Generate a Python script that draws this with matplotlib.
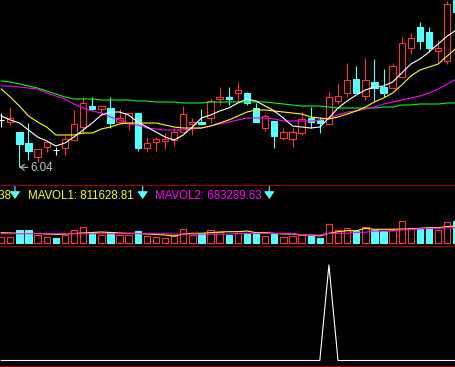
import matplotlib.pyplot as plt
from matplotlib.patches import Rectangle
from matplotlib.lines import Line2D
import numpy as np

# daily candles (price, yuan)
opens = [6.51, 6.49, 6.39, 6.28, 6.14, 6.24, 6.21, 6.23, 6.31, 6.44,
         6.65, 6.62, 6.63, 6.49, 6.48, 6.58, 6.23, 6.29, 6.30, 6.31,
         6.39, 6.47, 6.49, 6.53, 6.72, 6.74, 6.78, 6.78, 6.63, 6.43,
         6.50, 6.33, 6.32, 6.38, 6.53, 6.51, 6.47, 6.70, 6.78, 6.92,
         6.75, 6.89, 6.84, 6.83, 6.94, 7.23, 7.44, 7.39, 7.20, 7.10, 7.71]
closes = [6.51, 6.53, 6.27, 6.20, 6.22, 6.29, 6.21, 6.32, 6.47, 6.68,
          6.62, 6.65, 6.48, 6.53, 6.58, 6.23, 6.28, 6.32, 6.32, 6.39,
          6.57, 6.49, 6.47, 6.70, 6.74, 6.72, 6.81, 6.68, 6.49, 6.55,
          6.35, 6.39, 6.39, 6.52, 6.49, 6.48, 6.74, 6.75, 6.91, 6.78,
          6.91, 6.83, 6.78, 7.05, 7.28, 7.33, 7.30, 7.23, 7.23, 7.67, 7.59]
highs = [6.58, 6.64, 6.39, 6.48, 6.22, 6.31, 6.24, 6.35, 6.61, 6.74,
         6.74, 6.65, 6.74, 6.62, 6.58, 6.58, 6.34, 6.34, 6.38, 6.43,
         6.65, 6.53, 6.62, 6.73, 6.84, 6.84, 6.89, 6.79, 6.68, 6.57,
         6.50, 6.43, 6.43, 6.59, 6.64, 6.54, 6.79, 6.87, 7.08, 7.05,
         7.13, 7.12, 7.02, 7.08, 7.34, 7.38, 7.49, 7.44, 7.31, 7.70, 7.71]
lows = [6.44, 6.46, 6.04, 6.11, 6.09, 6.19, 6.16, 6.16, 6.31, 6.38,
        6.61, 6.56, 6.43, 6.48, 6.41, 6.20, 6.20, 6.20, 6.22, 6.25,
        6.39, 6.36, 6.46, 6.48, 6.66, 6.66, 6.69, 6.66, 6.49, 6.40,
        6.23, 6.31, 6.24, 6.36, 6.43, 6.38, 6.47, 6.67, 6.74, 6.78,
        6.71, 6.70, 6.74, 6.83, 6.94, 7.17, 7.22, 7.19, 7.09, 7.07, 7.59]

ma5 = [6.55, 6.51, 6.48, 6.41, 6.34, 6.30, 6.25, 6.28, 6.34, 6.41,
       6.48, 6.56, 6.59, 6.59, 6.56, 6.49, 6.44, 6.39, 6.34, 6.31,
       6.36, 6.44, 6.53, 6.56, 6.60, 6.63, 6.68, 6.72, 6.70, 6.65,
       6.60, 6.53, 6.45, 6.44, 6.43, 6.44, 6.53, 6.63, 6.70, 6.76,
       6.81, 6.84, 6.85, 6.89, 6.98, 7.07, 7.12, 7.19, 7.27, 7.35, 7.41]
ma10 = [6.82, 6.74, 6.65, 6.55, 6.49, 6.44, 6.36, 6.36, 6.36, 6.38,
        6.38, 6.42, 6.44, 6.47, 6.48, 6.48, 6.48, 6.48, 6.46, 6.44,
        6.43, 6.43, 6.43, 6.45, 6.48, 6.51, 6.55, 6.59, 6.61, 6.61,
        6.60, 6.59, 6.58, 6.57, 6.54, 6.53, 6.52, 6.54, 6.57, 6.60,
        6.64, 6.69, 6.73, 6.78, 6.86, 6.95, 7.01, 7.04, 7.07, 7.15, 7.23]
ma20 = [6.85, 6.85, 6.84, 6.83, 6.82, 6.78, 6.75, 6.72, 6.67, 6.63,
        6.60, 6.58, 6.54, 6.51, 6.47, 6.46, 6.43, 6.42, 6.41, 6.41,
        6.41, 6.42, 6.43, 6.45, 6.47, 6.49, 6.51, 6.53, 6.53, 6.53,
        6.52, 6.50, 6.50, 6.50, 6.50, 6.51, 6.53, 6.56, 6.59, 6.60,
        6.62, 6.64, 6.67, 6.69, 6.71, 6.73, 6.75, 6.78, 6.82, 6.87, 6.92]
ma60 = [6.90, 6.89, 6.87, 6.85, 6.83, 6.80, 6.77, 6.74, 6.72, 6.72,
        6.72, 6.71, 6.71, 6.71, 6.71, 6.70, 6.70, 6.69, 6.69, 6.69,
        6.68, 6.68, 6.68, 6.69, 6.69, 6.69, 6.69, 6.69, 6.69, 6.69,
        6.68, 6.67, 6.66, 6.65, 6.65, 6.65, 6.64, 6.63, 6.63, 6.63,
        6.63, 6.63, 6.64, 6.64, 6.66, 6.66, 6.67, 6.67, 6.67, 6.68, 6.68]

# volume in units of 10k shares
volume = [27, 27, 63, 63, 38, 27, 22, 38, 63, 77,
          47, 38, 55, 38, 38, 58, 33, 27, 22, 33,
          67, 38, 47, 63, 55, 38, 51, 51, 47, 33,
          47, 27, 33, 38, 33, 22, 93, 63, 72, 60,
          77, 63, 58, 63, 108, 72, 68, 72, 63, 102, 110]
mavol1 = [50, 48.5, 47, 47, 46, 43.5, 41, 43.5, 46, 48.5,
          51, 53.5, 51, 48.5, 47, 47, 43.5, 41, 38.5, 33.5,
          43.5, 47, 47, 50, 53.5, 55, 55, 58.5, 50, 50,
          47, 43.5, 43.5, 38.5, 38.5, 33.5, 47, 55, 60, 60,
          72, 67, 67, 67, 68.5, 68.5, 72, 75, 75, 81, 83.5]
mavol2 = [45, 45, 45, 45, 45, 45, 45, 45, 45, 45,
          45, 45, 45, 45, 45, 45, 45, 45, 45, 43,
          43, 43, 43, 43, 43, 43, 46, 46, 46, 46,
          46, 46, 46, 39, 39, 39, 47, 47, 47, 52,
          52, 58.5, 58.5, 58.5, 64, 66, 69, 71, 72, 74, 76]
volume_text = 'VOLUME: 1101938'
mavol1_text = 'MAVOL1: 811628.81'
mavol2_text = 'MAVOL2: 683289.63'

# signal indicator
signal = [0, 0, 0, 0, 0, 0, 0, 0, 0, 0,
          0, 0, 0, 0, 0, 0, 0, 0, 0, 0,
          0, 0, 0, 0, 0, 0, 0, 0, 0, 0,
          0, 0, 0, 0, 0, 0, 1, 0, 0, 0,
          0, 0, 0, 0, 0, 0, 0, 0, 0, 0, 0]

UP = '#ff3232'
DOWN = '#54ffff'
SEP = '#a00000'
W, H = 455, 367
XLIM = (-0.13, 49.85)
BW = 0.7
LW = 0.8

plt.rcParams['font.family'] = ['Liberation Sans', 'DejaVu Sans']

fig = plt.figure(figsize=(W / 100, H / 100), dpi=100, facecolor='black')


def panel(top, bottom):
    ax = fig.add_axes([0, 1 - bottom / H, 1, (bottom - top) / H])
    ax.set_facecolor('black')
    ax.set_xlim(*XLIM)
    ax.axis('off')
    return ax


x = np.arange(len(opens))

# price panel
ax = panel(0, 185)
ax.set_ylim(5.86, 7.71)
for i in x:
    o, h, l, c = opens[i], highs[i], lows[i], closes[i]
    if c > o:
        ax.vlines(i, c, h, color=UP, lw=LW)
        ax.vlines(i, l, o, color=UP, lw=LW)
        ax.add_patch(Rectangle((i - BW / 2, o), BW, c - o, fill=False, ec=UP, lw=LW))
    elif c < o:
        ax.vlines(i, l, h, color=DOWN, lw=LW)
        ax.add_patch(Rectangle((i - BW / 2, c), BW, o - c, fc=DOWN, ec=DOWN, lw=LW))
    else:
        ax.vlines(i, l, h, color='white', lw=LW)
        ax.hlines(o, i - BW / 2, i + BW / 2, color='white', lw=LW)
ax.plot(x, ma60, color='#00ff00', lw=LW)
ax.plot(x, ma20, color='#ff00ff', lw=LW)
ax.plot(x, ma10, color='#ffff00', lw=LW)
ax.plot(x, ma5, color='white', lw=LW)
i_low = int(np.argmin(lows))
ax.annotate(f'{lows[i_low]:.2f}', xy=(i_low, lows[i_low]), xytext=(8.1, -0.8),
            textcoords='offset points', color='#c0c0c0', fontsize=8.3,
            ha='left', va='center',
            arrowprops=dict(arrowstyle='->,head_length=0.35,head_width=0.25',
                            color='#c0c0c0', lw=LW, shrinkA=0, shrinkB=0))

# volume panel
axv = panel(185, 245)
axv.set_ylim(-11.5, 288.5)
for i in x:
    up = closes[i] > opens[i] or (closes[i] == opens[i] and (i == 0 or closes[i] >= closes[i - 1]))
    if up:
        axv.add_patch(Rectangle((i - BW / 2, 0), BW, volume[i], fill=False, ec=UP, lw=LW))
    else:
        axv.add_patch(Rectangle((i - BW / 2, 0), BW, volume[i], fc=DOWN, ec=DOWN, lw=LW))
axv.plot(x, mavol1, color='#ffff00', lw=LW)
axv.plot(x, mavol2, color='#ff00ff', lw=LW)

fs = 8.3
fig.text(10.5 / W, 1 - 198.7 / H, volume_text, color='#ffff00', fontsize=fs, ha='right', va='baseline')
fig.text(27.7 / W, 1 - 198.7 / H, mavol1_text, color='#ffff00', fontsize=fs, ha='left', va='baseline')
fig.text(155 / W, 1 - 198.7 / H, mavol2_text, color='#ff00ff', fontsize=fs, ha='left', va='baseline')
for xp in [15, 142.7, 269.3]:
    fig.add_artist(plt.matplotlib.patches.FancyArrowPatch(
        (xp / W, 1 - 186.5 / H), (xp / W, 1 - 199 / H), transform=fig.transFigure,
        arrowstyle='-|>,head_length=0.5,head_width=0.35', mutation_scale=9,
        color=DOWN, lw=LW, shrinkA=0, shrinkB=0))

# signal panel
axs = panel(245, 365)
axs.set_ylim(-0.047, 1.209)
axs.plot(x, signal, color='white', lw=LW)

for yp in [184.5, 245.5, 365.5]:
    fig.add_artist(Line2D([0, 1], [1 - yp / H, 1 - yp / H], transform=fig.transFigure, color=SEP, lw=LW))

fig.savefig('out.png', dpi=100, facecolor='black')
